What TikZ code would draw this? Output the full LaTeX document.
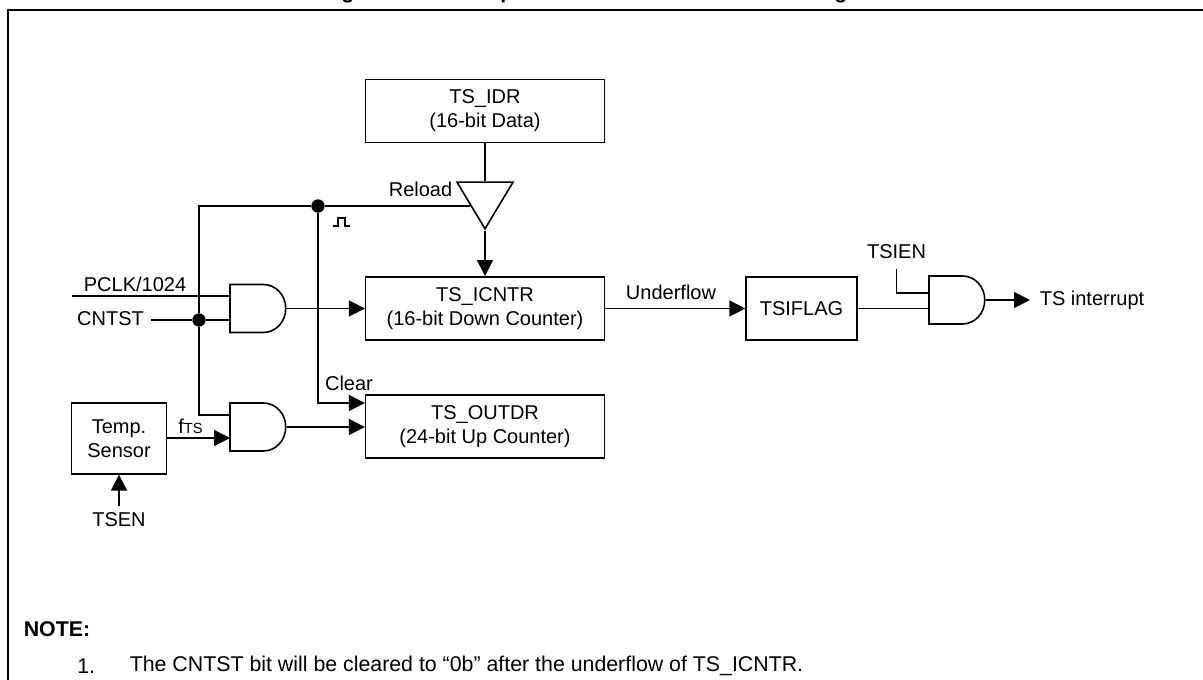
\documentclass[tikz,border=0pt]{standalone}
\usepackage{fontspec}
\setmainfont{Liberation Sans}
\usetikzlibrary{arrows.meta,shapes.geometric,shapes.gates.logic.US}
\begin{document}
\begin{tikzpicture}[
    x=0.75pt, y=-0.75pt,
    line width=1.2pt,
    font=\fontsize{15pt}{18pt}\selectfont,
    >={Triangle[length=12pt,width=12pt]},
    block/.style={draw, rectangle, minimum width=#1, minimum height=47.5pt, inner sep=0pt, align=center},
    andgate/.style={and gate US, draw, logic gate inputs=nn, minimum width=42pt, minimum height=36pt, inner sep=0pt, xscale=0.93},
    junction/.style={circle, fill=black, minimum size=10pt, inner sep=0pt},
    label/.style={inner sep=0pt},
    notetext/.style={inner sep=0pt, anchor=west, font=\fontsize{16pt}{18pt}\selectfont},
    titlefrag/.style={inner sep=0pt, anchor=base, font=\fontsize{16pt}{18pt}\selectfont\bfseries}
]
\useasboundingbox (0,0) rectangle (1203,680);

% ======================
% Frame and title
% ======================
\coordinate (FrameBL) at (8,680);
\coordinate (FrameTL) at (8,10);
\coordinate (FrameTR) at (1203,10);
\draw[line width=2pt] (FrameBL) -- (FrameTL) -- (FrameTR);
\node[titlefrag] (TitleA) at (348,-1.5) {g};
\node[titlefrag] (TitleB) at (507,-1.5) {p};
\node[titlefrag] (TitleC) at (841,-1.5) {g};

% ======================
% Blocks
% ======================
\node[block=179pt] (IDR) at (485,111) {TS\_IDR\\(16-bit Data)};
\node[block=179pt] (ICNTR) at (485,308.5) {TS\_ICNTR\\(16-bit Down Counter)};
\node[block=179pt] (OUTDR) at (485,426.5) {TS\_OUTDR\\(24-bit Up Counter)};
\node[block=83pt] (FLAG) at (801.5,308.5) {TSIFLAG};
\node[draw, rectangle, minimum width=71.5pt, minimum height=53pt, inner sep=0pt, align=center] (SENSOR) at (119,438.5) {Temp.\\Sensor};

% ======================
% Gates
% ======================
\node[andgate] (AND1) at (256,308.5) {};
\node[andgate] (AND2) at (256,427) {};
\node[andgate] (AND3) at (955,300) {};
\node[draw, isosceles triangle, isosceles triangle stretches, shape border rotate=270,
    minimum width=42pt, minimum height=35pt, inner sep=0pt] (BUF) at (485,198) {};

% ======================
% Junctions and free ends
% ======================
\node[junction] (DotA) at (318,206) {};
\node[junction] (DotB) at (199,320) {};
\coordinate (BufIn) at (471,206);
\coordinate (Corner) at (199,206);
\coordinate (PclkIn) at (71.5,296);
\coordinate (CntstIn) at (151,320);
\coordinate (FtsIn) at (230,438);
\coordinate (TsenIn) at (119,506);
\coordinate (TsienIn) at (896.5,269);
\coordinate (TsOut) at (1030,300);

% ======================
% Connections
% ======================
\draw (IDR.south) -- (BUF.north);
\draw[->] (BUF.apex) -- (ICNTR.north);
\draw (BufIn) -- (DotA) -- (Corner) -- (DotB) |- (AND2.west |- 0,415);
\draw[->] (DotA) |- (OUTDR.west |- 0,403);
\draw (PclkIn) -- (PclkIn -| AND1.west);
\draw (CntstIn) -- (DotB) -- (DotB -| AND1.west);
\draw[->] (AND1.output) -- (AND1.output -| ICNTR.west);
\draw[->] (AND2.output) -- (AND2.output -| OUTDR.west);
\draw[->] (SENSOR.east |- FtsIn) -- (FtsIn);
\draw[->] (TsenIn) -- (SENSOR.south);
\draw[->] (ICNTR.east) -- (FLAG.west);
\draw (FLAG.east) -- (FLAG.east -| AND3.west);
\draw (TsienIn) |- (AND3.west |- 0,293);
\draw[->] (AND3.output) -- (TsOut);

% Pulse mark
\coordinate (PulseA) at (333,226);
\draw (PulseA) -- ++(5,0) -- ++(0,-8) -- ++(7,0) -- ++(0,8) -- ++(5,0);

% ======================
% Labels
% ======================
\node[label, anchor=east] (LReload) at (453,189) {Reload};
\node[label] (LPclk) at (135,284) {PCLK/1024};
\node[label] (LCntst) at (110.5,319) {CNTST};
\node[label] (LClear) at (349,383) {Clear};
\node[label] (LFts) at (190.5,426) {f{\fontsize{11pt}{13pt}\selectfont TS}};
\node[label] (LTsen) at (119,520) {TSEN};
\node[label] (LUnder) at (671,292) {Underflow};
\node[label] (LTsien) at (896.5,252) {TSIEN};
\node[label, anchor=west] (LInt) at (1039,300) {TS interrupt};

% ======================
% Note
% ======================
\node[notetext, font=\fontsize{16pt}{18pt}\selectfont\bfseries] (Note) at (23,629) {NOTE:};
\node[notetext] (NoteNum) at (76.5,666) {1.};
\node[notetext] (NoteText) at (129,666) {The CNTST bit will be cleared to “0b” after the underflow of TS\_ICNTR.};

\end{tikzpicture}
\end{document}
